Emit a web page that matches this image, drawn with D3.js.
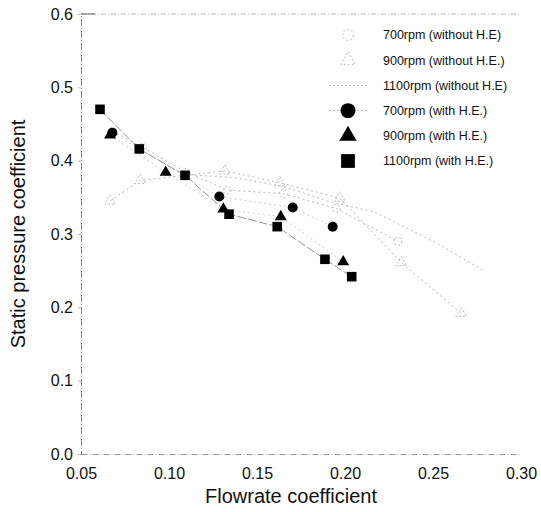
<!DOCTYPE html>
<html>
<head>
<meta charset="utf-8">
<script src="https://cdn.jsdelivr.net/npm/d3@7"></script>
<style>
  html, body { margin: 0; padding: 0; background: #fff; }
  #chart svg { display: block; }
</style>
</head>
<body>
<div id="chart"></div>
<script>
// values
const xTicks = [0.05, 0.10, 0.15, 0.20, 0.25, 0.30];
const yTicks = [0.0, 0.1, 0.2, 0.3, 0.4, 0.5, 0.6];

const seriesNames = [
  "700rpm (without H.E)",
  "900rpm (without H.E.)",
  "1100rpm (without H.E)",
  "700rpm (with H.E.)",
  "900rpm (with H.E.)",
  "1100rpm (with H.E.)"
];

const flow700Without  = [0.068, 0.085, 0.110, 0.133, 0.165, 0.195, 0.230];
const press700Without = [0.440, 0.418, 0.384, 0.360, 0.355, 0.335, 0.290];

const flow900Without  = [0.0665, 0.0835, 0.1318, 0.163, 0.197, 0.232, 0.266];
const press900Without = [0.345, 0.373, 0.386, 0.370, 0.349, 0.261, 0.192];

const flow1100Without  = [0.109, 0.137, 0.165, 0.190, 0.217, 0.254, 0.278];
const press1100Without = [0.381, 0.377, 0.365, 0.345, 0.330, 0.285, 0.251];

const flow700With  = [0.0678, 0.1286, 0.1703, 0.193];
const press700With = [0.438, 0.351, 0.336, 0.310];

const flow900With  = [0.0665, 0.0981, 0.1309, 0.1635, 0.199];
const press900With = [0.435, 0.384, 0.334, 0.3236, 0.262];

const flow1100With  = [0.0608, 0.0831, 0.1091, 0.1341, 0.1615, 0.1886, 0.2038];
const press1100With = [0.470, 0.416, 0.380, 0.327, 0.310, 0.2655, 0.2418];

(function () {
  const W = 541, H = 512;
  const MARGIN = { top: 14, right: 20, bottom: 58, left: 81 };
  const FONT = "Liberation Sans, Arial, sans-serif";
  const FAINT = "#b8b8b8";

  const zip = (xs, ys) => xs.map((x, i) => ({ x, y: ys[i] }));

  const series = [
    { name: seriesNames[0], pts: zip(flow700Without, press700Without), shape: "circle", open: true },
    { name: seriesNames[1], pts: zip(flow900Without, press900Without), shape: "triangle", open: true },
    { name: seriesNames[2], pts: zip(flow1100Without, press1100Without), shape: null, open: true },
    { name: seriesNames[3], pts: zip(flow700With, press700With), shape: "circle", open: false },
    { name: seriesNames[4], pts: zip(flow900With, press900With), shape: "triangle", open: false },
    { name: seriesNames[5], pts: zip(flow1100With, press1100With), shape: "square", open: false }
  ];

  const svg = d3.select("#chart").append("svg")
    .attr("width", W)
    .attr("height", H)
    .style("font-family", FONT);

  const x = d3.scaleLinear().domain([0.05, 0.30]).range([MARGIN.left, W - MARGIN.right]);
  const y = d3.scaleLinear().domain([0, 0.6]).range([H - MARGIN.bottom, MARGIN.top]);

  const symbolType = { circle: d3.symbolCircle, triangle: d3.symbolTriangle, square: d3.symbolSquare };
  const symbolSize = { circle: 78, triangle: 62, square: 92 };

  // frame: faint top line, left and bottom axes
  svg.append("line")
    .attr("x1", x(0.05)).attr("x2", x(0.30))
    .attr("y1", y(0.6)).attr("y2", y(0.6))
    .attr("stroke", FAINT).attr("stroke-width", 1)
    .attr("stroke-dasharray", "5,2,1,2");

  svg.append("line")
    .attr("x1", x(0.05)).attr("x2", x(0.05) + 14)
    .attr("y1", y(0.6)).attr("y2", y(0.6))
    .attr("stroke", "#666");

  const xAxis = d3.axisBottom(x).tickValues(xTicks).tickSize(0).tickPadding(14)
    .tickFormat(d3.format(".2f"));
  const yAxis = d3.axisLeft(y).tickValues(yTicks).tickSize(3).tickPadding(5)
    .tickFormat(d3.format(".1f"));

  const gx = svg.append("g")
    .attr("transform", `translate(0,${y(0)})`)
    .call(xAxis);
  const gy = svg.append("g")
    .attr("transform", `translate(${x(0.05)},0)`)
    .call(yAxis);

  gx.select(".domain").attr("stroke", "#999").attr("stroke-dasharray", "6,2,1,2");
  gy.select(".domain").attr("stroke", "#888").attr("stroke-dasharray", "7,2,1,2");
  gy.selectAll(".tick line").attr("stroke", "#bbb");
  [gx, gy].forEach(g => g.selectAll(".tick text")
    .attr("fill", "#111")
    .attr("font-size", "16px")
    .attr("font-family", FONT));

  // axis titles
  svg.append("text")
    .attr("x", 291)
    .attr("y", 503)
    .attr("text-anchor", "middle")
    .attr("font-size", "20px")
    .attr("fill", "#111")
    .text("Flowrate coefficient");

  svg.append("text")
    .attr("transform", `translate(25,${(y(0) + y(0.6)) / 2}) rotate(-90)`)
    .attr("text-anchor", "middle")
    .attr("font-size", "20px")
    .attr("fill", "#111")
    .text("Static pressure coefficient");

  // lines
  const line = d3.line().x(d => x(d.x)).y(d => y(d.y));
  series.forEach((s, i) => {
    svg.append("path")
      .datum(s.pts)
      .attr("d", line)
      .attr("fill", "none")
      .attr("stroke", s.open ? FAINT : (i === 5 ? "#8a8a8a" : "#c8c8c8"))
      .attr("stroke-width", s.open ? 1 : 0.9)
      .attr("stroke-dasharray", s.open ? "2,3" : (i === 5 ? "9,2" : "2,3"));
  });

  // markers
  series.filter(s => s.shape).forEach(s => {
    svg.append("g")
      .selectAll("path")
      .data(s.pts)
      .join("path")
      .attr("transform", d => `translate(${x(d.x)},${y(d.y)})`)
      .attr("d", d3.symbol(symbolType[s.shape], s.open ? 50 : symbolSize[s.shape]))
      .attr("fill", s.open ? "none" : "#000")
      .attr("stroke", s.open ? FAINT : "none")
      .attr("stroke-dasharray", s.open ? "2,2" : null);
  });

  // legend
  const legend = svg.append("g").attr("transform", "translate(348,35)");
  const ROW = 25.2;
  series.forEach((s, i) => {
    const g = legend.append("g").attr("transform", `translate(0,${i * ROW})`);
    if (i === 2 || i === 3) {
      g.append("line")
        .attr("x1", -19).attr("x2", 19)
        .attr("stroke", FAINT)
        .attr("stroke-dasharray", "2,2");
    }
    if (s.shape) {
      const big = { circle: 175, triangle: 130, square: 190 };
      g.append("path")
        .attr("d", d3.symbol(symbolType[s.shape], s.open ? 90 : big[s.shape]))
        .attr("fill", s.open ? "none" : "#000")
        .attr("stroke", s.open ? FAINT : "none")
        .attr("stroke-dasharray", s.open ? "2,2" : null);
    }
    g.append("text")
      .attr("x", 35)
      .attr("dy", "0.35em")
      .attr("font-size", "12.5px")
      .attr("fill", "#111")
      .text(s.name);
  });
})();
</script>
</body>
</html>
